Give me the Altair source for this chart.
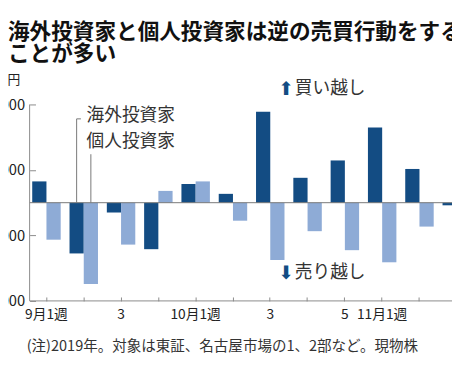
import json
import altair as alt
import pandas as pd

# ---- data ----
weeks = ["9月1週", "9月2週", "9月3週", "9月4週", "10月1週", "10月2週",
         "10月3週", "10月4週", "10月5週", "11月1週", "11月2週", "11月3週"]
tick_labels = ["9月1週", "", "3", "", "10月1週", "", "3", "", "5", "11月1週", "", "3"]
series = ["海外投資家", "個人投資家"]
foreign = [1300, -3100, -600, -2840, 1140, 540, 5560, 1520, 2580, 4600, 2060, -160]
individual = [-2260, -4960, -2560, 720, 1300, -1100, -3500, -1740, -2900, -3640, -1460, None]
y_ticks = [-6000, -4000, -2000, 0, 2000, 4000, 6000]
title_lines = ["海外投資家と個人投資家は逆の売買行動をする", "ことが多い"]
unit = "億円"
note = "(注)2019年。対象は東証、名古屋市場の1、2部など。現物株"
buy_label = "買い越し"
sell_label = "売り越し"
leader_week = "9月2週"
leader_tops = [5120, 2960]
legend_y = [5300, 3700]
buy_y = 6920
sell_y = -4300
annot_week = "10月3週"

DARK = "#134c83"
LIGHT = "#8eabd6"
GRAY = "#8a8a8a"
FONT = "Noto Sans CJK JP"

rows = []
for w, f, i in zip(weeks, foreign, individual):
    rows.append({"week": w, "series": series[0], "value": f})
    if i is not None:
        rows.append({"week": w, "series": series[1], "value": i})
df = pd.DataFrame(rows)

W, H = 452, 200

label_expr = "{}[indexof({}, datum.value)]".format(
    json.dumps(tick_labels, ensure_ascii=False), json.dumps(weeks, ensure_ascii=False))

x_enc = alt.X(
    "week:N", sort=weeks,
    scale=alt.Scale(domain=weeks, paddingInner=0.237, paddingOuter=0.07),
    axis=alt.Axis(title=None, labelExpr=label_expr, offset=-4, tickSize=4,
                  tickColor=GRAY, domain=False, grid=False, labelAngle=0,
                  labelFont=FONT, labelFontSize=14, labelColor="#222",
                  labelPadding=7, labelOverlap=False),
)
y_enc = alt.Y(
    "value:Q",
    scale=alt.Scale(domain=[-6000, 6000], nice=False, zero=False),
    axis=alt.Axis(values=y_ticks, format="d", offset=-6, tickSize=6, tickColor=GRAY,
                  domain=False, grid=False, labelFont=FONT, labelFontSize=15,
                  labelColor="#222", labelPadding=5,
                  title=unit, titleAngle=0, titleAlign="right", titleBaseline="middle",
                  titleX=-16, titleY=-25, titleFont=FONT, titleFontSize=13,
                  titleFontWeight="normal", titleColor="#222"),
)

base = alt.Chart(df)

bars = base.mark_bar().encode(
    x=x_enc,
    xOffset=alt.XOffset("series:N", sort=series,
                        scale=alt.Scale(domain=series, paddingInner=0, paddingOuter=0)),
    y=y_enc,
    color=alt.Color("series:N", scale=alt.Scale(domain=series, range=[DARK, LIGHT]), legend=None),
)

zero = alt.Chart(pd.DataFrame({"value": [0]})).mark_rule(color="#777", strokeWidth=1).encode(
    y="value:Q")

yline = alt.Chart(pd.DataFrame({"value": [0]})).mark_rule(color=GRAY, strokeWidth=1).encode(
    x=alt.value(0), y=alt.value(0), y2=alt.value(H))
xline = alt.Chart(pd.DataFrame({"value": [0]})).mark_rule(color=GRAY, strokeWidth=1).encode(
    x=alt.value(0), x2=alt.value(W), y=alt.value(H))

lead_df1 = pd.DataFrame({"week": [leader_week], "value": [leader_tops[0]], "base": [0]})
lead_df2 = pd.DataFrame({"week": [leader_week], "value": [leader_tops[1]], "base": [0]})
lead1 = alt.Chart(lead_df1).mark_rule(color="#777", strokeWidth=1).encode(
    x=alt.X("week:N", bandPosition=0.25), y="value:Q", y2="base:Q")
stub1 = alt.Chart(lead_df1).mark_rule(color="#777", strokeWidth=1).encode(
    x=alt.X("week:N", bandPosition=0.25), x2=alt.X2("week:N", bandPosition=0.4), y="value:Q")
lead2 = alt.Chart(lead_df2).mark_rule(color="#777", strokeWidth=1).encode(
    x=alt.X("week:N", bandPosition=0.75), y="value:Q", y2="base:Q")

legend_df = pd.DataFrame({"week": [leader_week] * 2, "value": legend_y, "label": series})
legend_txt = alt.Chart(legend_df).mark_text(
    align="left", baseline="middle", font=FONT, fontSize=18, color="#333").encode(
    x=alt.X("week:N", bandPosition=0.6), y="value:Q", text="label:N")

ann_df = pd.DataFrame({"week": [annot_week] * 2, "value": [buy_y, sell_y],
                       "label": [buy_label, sell_label], "arrow": ["⬆", "⬇"]})
arrows = alt.Chart(ann_df).mark_text(
    align="center", baseline="middle", font="DejaVu Sans", fontSize=19, color=DARK, dx=16).encode(
    x="week:N", y="value:Q", text="arrow:N")
ann_txt = alt.Chart(ann_df).mark_text(
    align="left", baseline="middle", font=FONT, fontSize=18, color="#333", dx=25).encode(
    x="week:N", y="value:Q", text="label:N")

note_txt = alt.Chart(pd.DataFrame({"t": [note]})).mark_text(
    align="left", baseline="middle", font=FONT, fontSize=14.8, color="#333").encode(
    x=alt.value(-3), y=alt.value(247), text="t:N")

chart = alt.layer(
    bars, zero, yline, xline, lead1, stub1, lead2, legend_txt, arrows, ann_txt, note_txt
).properties(
    width=W, height=H,
    autosize=alt.AutoSizeParams(type="none"),
    padding={"left": 22, "top": 95, "right": -22, "bottom": 60},
    title=alt.TitleParams(text=title_lines, anchor="start", frame="group", dx=-22,
                          offset=8, font=FONT, fontSize=22, fontWeight="bold",
                          color="#111", lineHeight=23),
).configure_view(stroke=None)

chart.save("out.html", embed_options={"renderer": "svg", "actions": False})
